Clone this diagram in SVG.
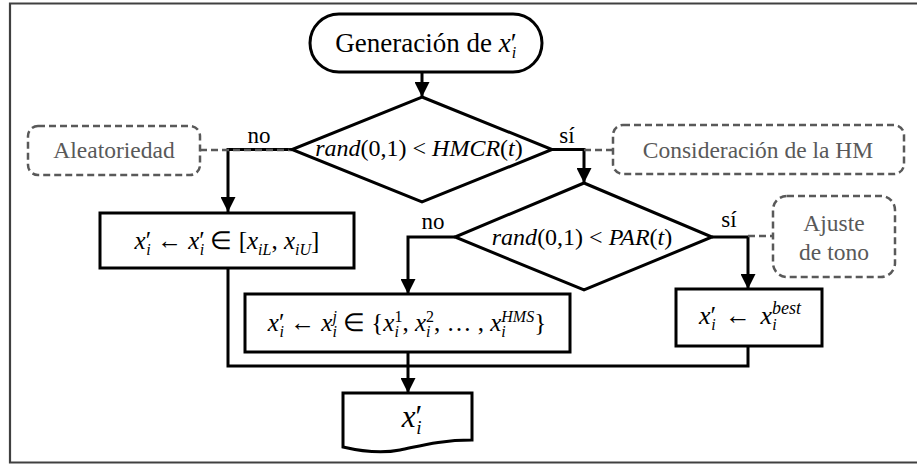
<svg xmlns="http://www.w3.org/2000/svg" width="917" height="464" viewBox="0 0 917 464">
  <style>
    .it { font-style: italic; }
    .sm { font-size: 16px; }
    .node { fill: #fff; stroke: #000; stroke-width: 3; }
    .note { fill: #fff; stroke: #595959; stroke-width: 2.5; stroke-dasharray: 7 4; }
    .notetxt { fill: #595959; font-size: 23.5px; }
    .lbl { font-size: 23px; }
    .flow { fill: none; stroke: #000; stroke-width: 3; }
    .dash { fill: none; stroke: #595959; stroke-width: 2.5; stroke-dasharray: 7 4; }
  </style>
  <defs>
    <marker id="arrow" markerUnits="userSpaceOnUse" markerWidth="15" markerHeight="15" refX="15" refY="7.5" orient="auto">
      <path d="M0,0 L15,7.5 L0,15 Z" fill="#000"/>
    </marker>
  </defs>

  <rect width="917" height="464" fill="#fff"/>
  <!-- frame (open on the right side) -->
  <path d="M925,3.5 H10 V462.5 H925" fill="none" stroke="#404040" stroke-width="2.2"/>

  <!-- connectors -->
  <g id="connectors">
    <path class="flow" d="M422,72 V97" marker-end="url(#arrow)"/>
    <path class="flow" d="M292,149.5 H228 V212" marker-end="url(#arrow)"/>
    <path class="flow" d="M552,149.5 H584 V183" marker-end="url(#arrow)"/>
    <path class="flow" d="M455,237 H408 V294" marker-end="url(#arrow)"/>
    <path class="flow" d="M712,237 H748 V289" marker-end="url(#arrow)"/>
    <path class="flow" d="M228,268 V366 H748 V346"/>
    <path class="flow" d="M408,352 V393" marker-end="url(#arrow)"/>
    <path class="dash" d="M200,150 H292"/>
    <path class="dash" d="M584,150 H613"/>
    <path class="dash" d="M748,236 H773"/>
    <text class="lbl" font-family="Liberation Serif" x="259" y="143" text-anchor="middle">no</text>
    <text class="lbl" font-family="Liberation Serif" x="567" y="143" text-anchor="middle">sí</text>
    <text class="lbl" font-family="Liberation Serif" x="433" y="229" text-anchor="middle">no</text>
    <text class="lbl" font-family="Liberation Serif" x="729" y="227" text-anchor="middle">sí</text>
  </g>

  <!-- start terminator -->
  <g id="start">
    <rect class="node" x="310" y="14" width="232" height="58" rx="29"/>
    <text font-family="Liberation Serif" x="426" y="52" text-anchor="middle" font-size="27">Generación de <tspan class="it">x</tspan>′<tspan class="it sm" dx="-5" dy="6">i</tspan></text>
  </g>

  <!-- first decision -->
  <g id="hmcr">
    <polygon class="node" points="422,97 552,149.5 422,202 292,149.5"/>
    <text font-family="Liberation Serif" x="419" y="156" text-anchor="middle" font-size="24"><tspan class="it">rand</tspan>(0,1) &lt; <tspan class="it">HMCR</tspan>(<tspan class="it">t</tspan>)</text>
  </g>

  <!-- random choice -->
  <g id="random">
    <rect class="node" x="100" y="213" width="254" height="55"/>
    <text font-family="Liberation Serif" x="227" y="249" text-anchor="middle" font-size="25"><tspan class="it">x</tspan>′<tspan class="it sm" dx="-5" dy="6">i</tspan><tspan dy="-6"> ← </tspan><tspan class="it">x</tspan>′<tspan class="it sm" dx="-5" dy="6">i</tspan><tspan dy="-6"> ∈ [</tspan><tspan class="it">x</tspan><tspan class="it sm" dy="6">iL</tspan><tspan dy="-6">, </tspan><tspan class="it">x</tspan><tspan class="it sm" dy="6">iU</tspan><tspan dy="-6">]</tspan></text>
  </g>

  <!-- second decision -->
  <g id="par">
    <polygon class="node" points="584,183 712,237 584,290 455,237"/>
    <text font-family="Liberation Serif" x="582" y="245" text-anchor="middle" font-size="24"><tspan class="it">rand</tspan>(0,1) &lt; <tspan class="it">PAR</tspan>(<tspan class="it">t</tspan>)</text>
  </g>

  <!-- memory choice -->
  <g id="memory">
    <rect class="node" x="245" y="294" width="325" height="58"/>
    <text font-family="Liberation Serif" x="407" y="331" text-anchor="middle" font-size="25"><tspan class="it">x</tspan>′<tspan class="it sm" dx="-5" dy="6">i</tspan><tspan dy="-6"> ← </tspan><tspan class="it">x</tspan><tspan class="it sm" dy="6">i</tspan><tspan class="it sm" dx="-4.5" dy="-15">j</tspan><tspan dy="9"> ∈ {</tspan><tspan class="it">x</tspan><tspan class="it sm" dy="6">i</tspan><tspan class="sm" dx="-4.5" dy="-15">1</tspan><tspan dy="9">, </tspan><tspan class="it">x</tspan><tspan class="it sm" dy="6">i</tspan><tspan class="sm" dx="-4.5" dy="-15">2</tspan><tspan dy="9">, … , </tspan><tspan class="it">x</tspan><tspan class="it sm" dy="6">i</tspan><tspan class="it sm" dx="-4.5" dy="-15">HMS</tspan><tspan dy="9">}</tspan></text>
  </g>

  <!-- pitch adjustment -->
  <g id="best">
    <rect class="node" x="676" y="289" width="146" height="57"/>
    <text font-family="Liberation Serif" x="750" y="324" text-anchor="middle" font-size="26"><tspan class="it">x</tspan>′<tspan class="it sm" dx="-5" dy="6">i</tspan><tspan dx="3" dy="-6"> ← </tspan><tspan class="it" dx="3">x</tspan><tspan class="it sm" dy="6">i</tspan><tspan class="it" font-size="18" dx="-4.5" dy="-16">best</tspan></text>
  </g>

  <!-- output document -->
  <g id="output">
    <path class="node" d="M343,393 H472 V440 C440,440 420,446 400,450 C380,454 360,451 343,447 Z"/>
    <text font-family="Liberation Serif" x="412" y="427" text-anchor="middle" font-size="31"><tspan class="it">x</tspan>′<tspan class="it" font-size="19" dx="-6" dy="7">i</tspan></text>
  </g>

  <!-- annotations -->
  <g id="note-random">
    <rect class="note" x="28" y="126" width="172" height="49" rx="10"/>
    <text class="notetxt" font-family="Liberation Serif" x="114" y="158" text-anchor="middle">Aleatoriedad</text>
  </g>
  <g id="note-hm">
    <rect class="note" x="613" y="125" width="291" height="49" rx="10"/>
    <text class="notetxt" font-family="Liberation Serif" x="758" y="158" text-anchor="middle">Consideración de la HM</text>
  </g>
  <g id="note-pitch">
    <rect class="note" x="773" y="196" width="122" height="81" rx="14"/>
    <text class="notetxt" font-family="Liberation Serif" x="834" y="231" text-anchor="middle">Ajuste</text>
    <text class="notetxt" font-family="Liberation Serif" x="834" y="260" text-anchor="middle">de tono</text>
  </g>
</svg>
